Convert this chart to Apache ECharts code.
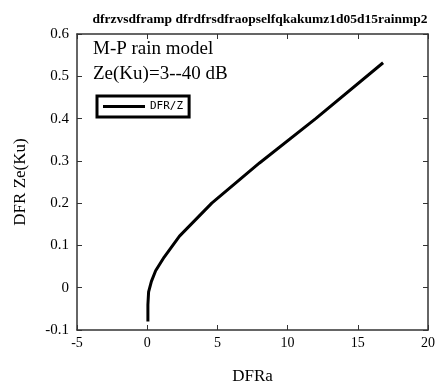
<!DOCTYPE html>
<html><head><meta charset="utf-8">
<script src="https://cdn.jsdelivr.net/npm/echarts@6/dist/echarts.min.js"></script>
<style>html,body{margin:0;padding:0;background:#fff}#c{width:435px;height:385px}</style>
</head><body><div id="c"></div>
<script>
var dfrA = [0.05, 0.05, 0.1, 0.3, 0.6, 1.2, 2.3, 4.6, 8.0, 12.0, 16.8];
var dfrZ = [-0.08, -0.04, -0.01, 0.015, 0.04, 0.072, 0.122, 0.2, 0.295, 0.40, 0.532];
var xTicks = [-5, 0, 5, 10, 15, 20];
var yTicks = [-0.1, 0, 0.1, 0.2, 0.3, 0.4, 0.5, 0.6];
var seriesName = 'DFR/Z';

var pts = dfrA.map(function(x,i){return [x, dfrZ[i]];});
var F = 'Liberation Serif, Times New Roman, serif';
var axisCommon = {
  axisLine:{show:true, onZero:false, lineStyle:{color:'#333', width:1.5}},
  axisTick:{show:true, inside:true, length:5, lineStyle:{color:'#333', width:1}},
  splitLine:{show:false}
};
var chart = echarts.init(document.getElementById('c'));
chart.setOption({
  animation:false,
  backgroundColor:'#fff',
  title:{text:'dfrzvsdframp dfrdfrsdfraopselfqkakumz1d05d15rainmp2', left:255, textAlign:'center', top:8,
    textStyle:{fontFamily:F, fontSize:13.5, fontWeight:'bold', color:'#000'}},
  grid:{left:77, right:7, top:34, bottom:55, containLabel:false, outerBoundsMode:'none'},
  legend:{show:true, data:[{name:seriesName, icon:'rect'}], left:97, top:96, orient:'vertical',
    borderColor:'#000', borderWidth:3, padding:[5,6,5,6], itemWidth:42, itemHeight:3, itemGap:0,
    itemStyle:{color:'#000'},
    textStyle:{fontFamily:'DejaVu Sans Mono, monospace', fontSize:11, color:'#000'}},
  xAxis:[
    Object.assign({type:'value', min:xTicks[0], max:xTicks[xTicks.length-1], interval:5, position:'bottom',
      name:'DFRa', nameLocation:'middle', nameGap:38,
      nameTextStyle:{fontFamily:F, fontSize:17, color:'#000'},
      axisLabel:{fontFamily:F, fontSize:14, color:'#000', margin:6}}, axisCommon),
    Object.assign({type:'value', min:xTicks[0], max:xTicks[xTicks.length-1], interval:5, position:'top',
      axisLabel:{show:false}}, axisCommon)
  ],
  yAxis:[
    Object.assign({type:'value', min:yTicks[0], max:yTicks[yTicks.length-1], interval:0.1, position:'left',
      name:'DFR Ze(Ku)', nameLocation:'middle', nameGap:48,
      nameTextStyle:{fontFamily:F, fontSize:17, color:'#000'},
      axisLabel:{fontFamily:F, fontSize:15, color:'#000', margin:8,
        formatter:function(v){return String(Math.round(v*10)/10);}}}, axisCommon),
    Object.assign({type:'value', min:yTicks[0], max:yTicks[yTicks.length-1], interval:0.1, position:'right',
      axisLabel:{show:false}}, axisCommon)
  ],
  graphic:[
    {type:'text', left:93, top:40, style:{text:'M-P rain model', fontFamily:F, fontSize:19, fill:'#000'}},
    {type:'text', left:93, top:65, style:{text:'Ze(Ku)=3--40 dB', fontFamily:F, fontSize:19, fill:'#000'}}
  ],
  series:[{name:seriesName, type:'line', data:pts, symbol:'none', smooth:false,
    lineStyle:{color:'#000', width:3}, itemStyle:{color:'#000'}}]
});
</script></body></html>
